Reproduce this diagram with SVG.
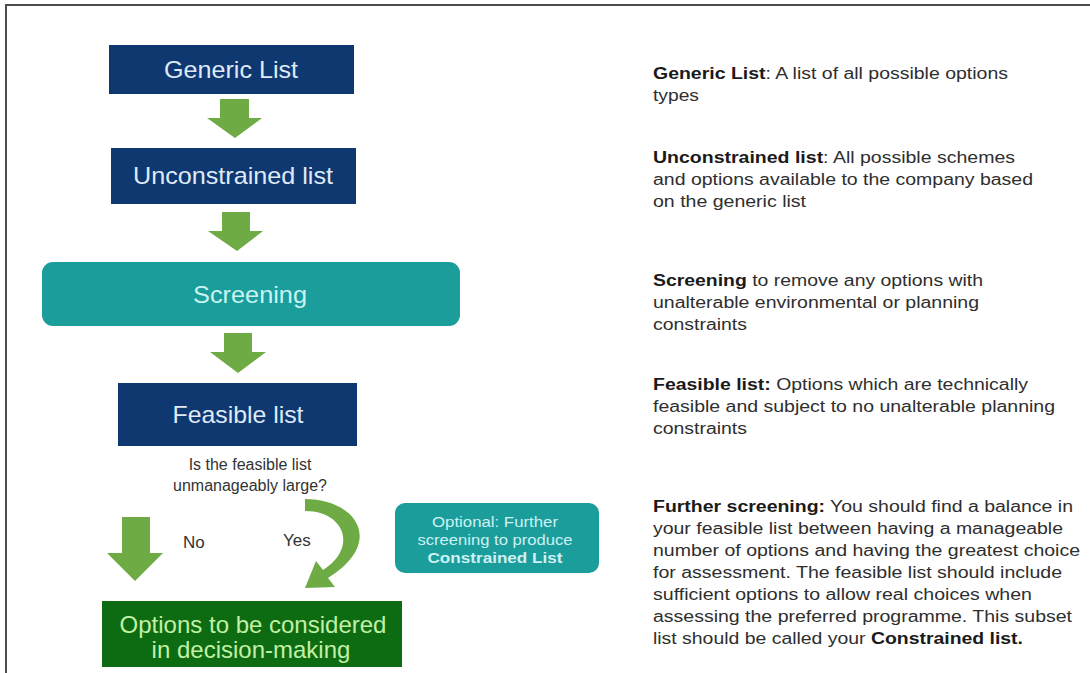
<svg xmlns="http://www.w3.org/2000/svg" width="1090" height="673" viewBox="0 0 1090 673">
<style>
.navy{fill:#0f3870}
.teal{fill:#1b9d9b}
.green{fill:#0d6c12}
.arrow{fill:#6fab45}
.bt{font-family:"Liberation Sans",Arial,sans-serif;font-size:24px;fill:#dfeaf6;text-anchor:middle}
.st{font-family:"Liberation Sans",Arial,sans-serif;font-size:24px;fill:#c9f4f2;text-anchor:middle}
.gt{font-family:"Liberation Sans",Arial,sans-serif;font-size:24px;fill:#c2f0a6;text-anchor:middle}
.q{font-family:"Liberation Sans",Arial,sans-serif;font-size:16px;fill:#333333;text-anchor:middle}
.lbl{font-family:"Liberation Sans",Arial,sans-serif;font-size:17px;fill:#333333}
.ot{font-family:"Liberation Sans",Arial,sans-serif;font-size:15.5px;fill:#cdf1f4;text-anchor:middle}
.d{font-family:"Liberation Sans",Arial,sans-serif;font-size:16px;fill:#2e2e2e}
.b{font-weight:bold;fill:#1a1a1a}
</style>
<rect x="0" y="0" width="1090" height="673" fill="#ffffff"/>
<path d="M6 673 V5 H1090" fill="none" stroke="#4d4d4d" stroke-width="2"/>

<g id="generic-list">
<rect class="navy" x="109" y="45" width="245" height="49"/>
<text class="bt" x="231" y="78" textLength="134" lengthAdjust="spacingAndGlyphs">Generic List</text>
</g>
<g id="unconstrained-list">
<rect class="navy" x="111" y="148" width="245" height="56"/>
<text class="bt" x="233" y="184" textLength="200" lengthAdjust="spacingAndGlyphs">Unconstrained list</text>
</g>
<g id="screening">
<rect class="teal" x="42" y="262" width="418" height="64" rx="11"/>
<text class="st" x="250" y="303" textLength="114" lengthAdjust="spacingAndGlyphs">Screening</text>
</g>
<g id="feasible-list">
<rect class="navy" x="118" y="383" width="239" height="63"/>
<text class="bt" x="238" y="423" textLength="131" lengthAdjust="spacingAndGlyphs">Feasible list</text>
</g>
<g id="question">
<text class="q" x="250" y="470">Is the feasible list</text>
<text class="q" x="250" y="491">unmanageably large?</text>
</g>
<g id="optional">
<rect class="teal" x="395" y="503" width="204" height="70" rx="10"/>
<text class="ot" x="495" y="527" textLength="126" lengthAdjust="spacingAndGlyphs">Optional: Further</text>
<text class="ot" x="495" y="545" textLength="155" lengthAdjust="spacingAndGlyphs">screening to produce</text>
<text class="ot" x="495" y="563" font-weight="bold" textLength="135" lengthAdjust="spacingAndGlyphs">Constrained List</text>
</g>
<g id="options">
<rect class="green" x="102" y="601" width="300" height="66"/>
<text class="gt" x="253" y="633">Options to be considered</text>
<text class="gt" x="251" y="658">in decision-making</text>
</g>

<g id="connectors">
<path class="arrow" d="M220 99 H249 V118 H262 L235 138 L207 118 H220 Z"/>
<path class="arrow" d="M222 212 H250 V231 H263 L237 251 L208 231 H222 Z"/>
<path class="arrow" d="M224 333 H252 V352 H266 L238 373 L210 352 H224 Z"/>
<path class="arrow" d="M122 517 H150 V553 H163 L135 581 L107 553 H122 Z"/>
<path class="arrow" d="M305 499 C356 499 386 542 328 578 L335 587 L305 588 L316 561 L323 570 C358 548 345 511 305 511 Z"/>
<text class="lbl" x="183" y="548">No</text>
<text class="lbl" x="283" y="546">Yes</text>
</g>

<g id="desc-generic">
<text class="d" x="653" y="79" textLength="355" lengthAdjust="spacingAndGlyphs"><tspan class="b">Generic List</tspan>: A list of all possible options</text>
<text class="d" x="653" y="101" textLength="46" lengthAdjust="spacingAndGlyphs">types</text>
</g>
<g id="desc-unconstrained">
<text class="d" x="653" y="163" textLength="362" lengthAdjust="spacingAndGlyphs"><tspan class="b">Unconstrained list</tspan>: All possible schemes</text>
<text class="d" x="653" y="185" textLength="380" lengthAdjust="spacingAndGlyphs">and options available to the company based</text>
<text class="d" x="653" y="207" textLength="153" lengthAdjust="spacingAndGlyphs">on the generic list</text>
</g>
<g id="desc-screening">
<text class="d" x="653" y="286" textLength="330" lengthAdjust="spacingAndGlyphs"><tspan class="b">Screening</tspan> to remove any options with</text>
<text class="d" x="653" y="308" textLength="326" lengthAdjust="spacingAndGlyphs">unalterable environmental or planning</text>
<text class="d" x="653" y="330" textLength="94" lengthAdjust="spacingAndGlyphs">constraints</text>
</g>
<g id="desc-feasible">
<text class="d" x="653" y="390" textLength="375" lengthAdjust="spacingAndGlyphs"><tspan class="b">Feasible list:</tspan> Options which are technically</text>
<text class="d" x="653" y="412" textLength="402" lengthAdjust="spacingAndGlyphs">feasible and subject to no unalterable planning</text>
<text class="d" x="653" y="434" textLength="94" lengthAdjust="spacingAndGlyphs">constraints</text>
</g>
<g id="desc-further">
<text class="d" x="653" y="512" textLength="420" lengthAdjust="spacingAndGlyphs"><tspan class="b">Further screening:</tspan> You should find a balance in</text>
<text class="d" x="653" y="534" textLength="410" lengthAdjust="spacingAndGlyphs">your feasible list between having a manageable</text>
<text class="d" x="653" y="556" textLength="427" lengthAdjust="spacingAndGlyphs">number of options and having the greatest choice</text>
<text class="d" x="653" y="578" textLength="409" lengthAdjust="spacingAndGlyphs">for assessment. The feasible list should include</text>
<text class="d" x="653" y="600" textLength="379" lengthAdjust="spacingAndGlyphs">sufficient options to allow real choices when</text>
<text class="d" x="653" y="622" textLength="419" lengthAdjust="spacingAndGlyphs">assessing the preferred programme. This subset</text>
<text class="d" x="653" y="644" textLength="370" lengthAdjust="spacingAndGlyphs">list should be called your <tspan class="b">Constrained list.</tspan></text>
</g>
</svg>
